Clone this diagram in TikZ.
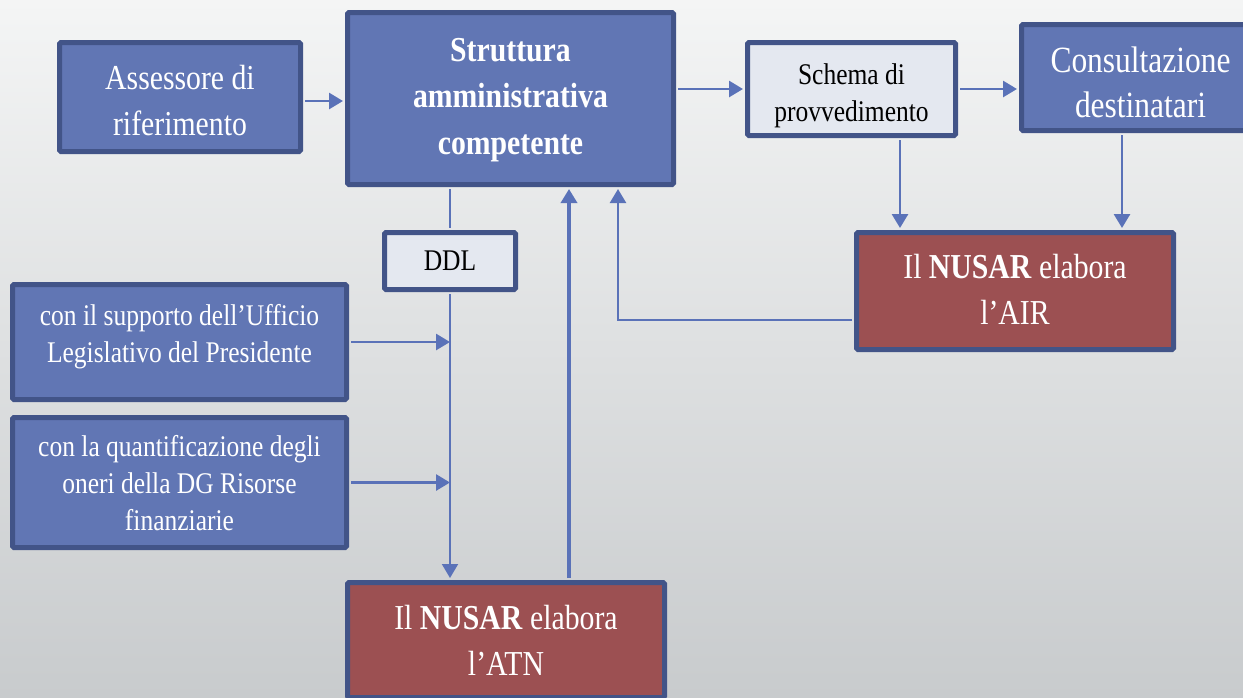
\documentclass[tikz,border=0pt]{standalone}
\usepackage{fontspec}
\setmainfont{Liberation Serif}[FakeStretch=0.85]
\usetikzlibrary{arrows.meta}
\definecolor{bfill}{HTML}{6176B4}
\definecolor{bdraw}{HTML}{425488}
\definecolor{rfill}{HTML}{9C5052}
\definecolor{lfill}{HTML}{E4E8F0}
\definecolor{conn}{HTML}{5A72B8}
\definecolor{bgtop}{HTML}{F4F5F5}
\definecolor{bgbot}{HTML}{C8CBCD}
\begin{document}
\begin{tikzpicture}[x=1pt,y=-1pt,
 box/.style={draw=bdraw,line width=5pt,rounded corners=1.5pt,inner sep=0pt,align=center,text=white,text depth=0pt},
 bluebox/.style={box,fill=bfill},
 redbox/.style={box,fill=rfill},
 lightbox/.style={box,fill=lfill,text=black},
 big/.style={font=\fontsize{35}{46}\selectfont},
 bigger/.style={font=\fontsize{37}{45}\selectfont},
 bigbold/.style={font=\fontsize{35}{46.5}\selectfont\bfseries},
 mid/.style={font=\fontsize{30}{37}\selectfont},
 link/.style={draw=conn,line width=2.8pt,shorten >=2pt,shorten <=2pt,-{Triangle[length=14pt,width=16pt]}},
 thinlink/.style={link,line width=2pt},
 plain/.style={draw=conn,line width=2pt,shorten <=2pt,shorten >=2pt},
]
\shade[top color=bgtop,bottom color=bgbot] (0,0) rectangle (1243,697);
\useasboundingbox (0,0) rectangle (1243,697);

\node[bluebox,big,minimum width=241pt,minimum height=109pt,text height=76pt] (ass) at (180,97) {Assessore di\\riferimento};
\node[bluebox,bigbold,minimum width=326pt,minimum height=172pt,text depth=5pt] (str) at (510.5,98.5) {Struttura\\amministrativa\\competente};
\node[lightbox,mid,minimum width=208pt,minimum height=93pt,text height=64pt] (sch) at (851.5,89) {Schema di\\provvedimento};
\node[bluebox,bigger,minimum width=238pt,minimum height=106pt,text height=80pt] (con) at (1140.5,77.5) {Consultazione\\destinatari};
\node[lightbox,mid,minimum width=131pt,minimum height=57pt] (ddl) at (450,261) {DDL};
\node[redbox,big,minimum width=317pt,minimum height=117pt,text depth=4pt] (air) at (1015,291) {Il \textbf{NUSAR} elabora\\l’AIR};
\node[bluebox,mid,minimum width=334pt,minimum height=115pt,text depth=17pt] (sup) at (179.5,342) {con il supporto dell’Ufficio\\Legislativo del Presidente};
\node[bluebox,mid,minimum width=334pt,minimum height=130pt] (qua) at (179.5,482.5) {con la quantificazione degli\\oneri della DG Risorse\\finanziarie};
\node[redbox,big,minimum width=317pt,minimum height=115pt] (atn) at (506,640) {Il \textbf{NUSAR} elabora\\l’ATN};

\coordinate (xa) at (900,0);
\coordinate (xb) at (1122,0);
\coordinate (fb) at (618,320);
\coordinate (up) at (569,0);
\coordinate (ya) at (0,101);

\draw[link] (ass.east |- ya) -- (str.west |- ya);
\draw[link] (str.east |- sch.west) -- (sch.west);
\draw[link] (sch.east) -- (sch.east -| con.west);
\draw[link] (sch.south -| xa) -- (air.north -| xa);
\draw[link] (con.south -| xb) -- (air.north -| xb);
\draw[link,line width=2.4pt] (air.west |- fb) -- (fb) -- (fb |- str.south);
\draw[plain] (ddl.north |- str.south) -- (ddl.north);
\draw[thinlink] (ddl.south) -- (ddl.south |- atn.north);
\draw[link,shorten >=0pt] (sup.east) -- (sup.east -| ddl.south);
\draw[link,shorten >=0pt] (qua.east) -- (qua.east -| ddl.south);
\draw[link,line width=3.4pt] (atn.north -| up) -- (str.south -| up);
\end{tikzpicture}
\end{document}
